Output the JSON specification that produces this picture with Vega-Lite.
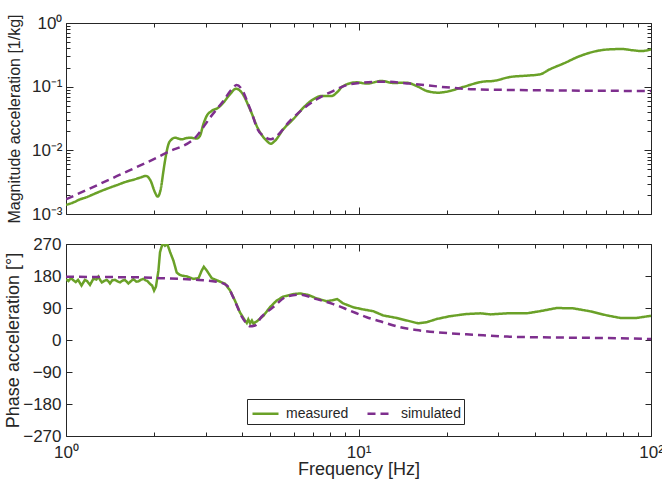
{
  "$schema": "https://vega.github.io/schema/vega-lite/v6.json",
  "background": "white",
  "padding": {"left": 3, "top": 13, "right": 0, "bottom": 0},
  "bounds": "flush",
  "spacing": 30,
  "config": {
    "view": {"stroke": "#262626", "strokeWidth": 1},
    "axis": {"domain": false, "grid": false, "labelFont": "Liberation Sans", "titleFont": "Liberation Sans", "labelFontSize": 17, "titleFontSize": 18, "labelColor": "#262626", "titleColor": "#262626", "tickColor": "#262626", "titleFontWeight": "normal", "labelOverlap": false, "labelFlush": false}
  },
  "datasets": {
    "mag": [
      {"f": 1.0, "m": 0.00139, "series": "measured"},
      {"f": 1.06, "m": 0.00152, "series": "measured"},
      {"f": 1.117, "m": 0.0017, "series": "measured"},
      {"f": 1.17, "m": 0.00182, "series": "measured"},
      {"f": 1.24, "m": 0.00204, "series": "measured"},
      {"f": 1.32, "m": 0.0023, "series": "measured"},
      {"f": 1.414, "m": 0.0026, "series": "measured"},
      {"f": 1.51, "m": 0.0029, "series": "measured"},
      {"f": 1.61, "m": 0.00323, "series": "measured"},
      {"f": 1.7, "m": 0.00345, "series": "measured"},
      {"f": 1.79, "m": 0.00372, "series": "measured"},
      {"f": 1.877, "m": 0.00396, "series": "measured"},
      {"f": 1.948, "m": 0.0033, "series": "measured"},
      {"f": 2.015, "m": 0.00218, "series": "measured"},
      {"f": 2.058, "m": 0.00188, "series": "measured"},
      {"f": 2.113, "m": 0.0026, "series": "measured"},
      {"f": 2.15, "m": 0.0045, "series": "measured"},
      {"f": 2.18, "m": 0.00682, "series": "measured"},
      {"f": 2.24, "m": 0.01245, "series": "measured"},
      {"f": 2.298, "m": 0.0149, "series": "measured"},
      {"f": 2.358, "m": 0.0158, "series": "measured"},
      {"f": 2.42, "m": 0.0153, "series": "measured"},
      {"f": 2.486, "m": 0.0149, "series": "measured"},
      {"f": 2.57, "m": 0.0155, "series": "measured"},
      {"f": 2.655, "m": 0.0158, "series": "measured"},
      {"f": 2.797, "m": 0.0153, "series": "measured"},
      {"f": 2.87, "m": 0.0168, "series": "measured"},
      {"f": 2.948, "m": 0.0257, "series": "measured"},
      {"f": 3.027, "m": 0.0347, "series": "measured"},
      {"f": 3.148, "m": 0.0416, "series": "measured"},
      {"f": 3.317, "m": 0.0468, "series": "measured"},
      {"f": 3.45, "m": 0.056, "series": "measured"},
      {"f": 3.637, "m": 0.0759, "series": "measured"},
      {"f": 3.813, "m": 0.093, "series": "measured"},
      {"f": 3.99, "m": 0.0805, "series": "measured"},
      {"f": 4.256, "m": 0.0442, "series": "measured"},
      {"f": 4.545, "m": 0.0214, "series": "measured"},
      {"f": 4.855, "m": 0.0141, "series": "measured"},
      {"f": 5.01, "m": 0.0127, "series": "measured"},
      {"f": 5.18, "m": 0.0141, "series": "measured"},
      {"f": 5.53, "m": 0.0214, "series": "measured"},
      {"f": 5.98, "m": 0.0308, "series": "measured"},
      {"f": 6.48, "m": 0.0468, "series": "measured"},
      {"f": 7.01, "m": 0.0634, "series": "measured"},
      {"f": 7.48, "m": 0.0714, "series": "measured"},
      {"f": 8.1, "m": 0.0714, "series": "measured"},
      {"f": 8.42, "m": 0.0805, "series": "measured"},
      {"f": 8.87, "m": 0.1025, "series": "measured"},
      {"f": 9.86, "m": 0.117, "series": "measured"},
      {"f": 10.67, "m": 0.1117, "series": "measured"},
      {"f": 12.0, "m": 0.123, "series": "measured"},
      {"f": 13.15, "m": 0.1143, "series": "measured"},
      {"f": 14.6, "m": 0.1156, "series": "measured"},
      {"f": 15.8, "m": 0.1025, "series": "measured"},
      {"f": 17.1, "m": 0.0857, "series": "measured"},
      {"f": 18.75, "m": 0.0805, "series": "measured"},
      {"f": 20.55, "m": 0.0857, "series": "measured"},
      {"f": 22.8, "m": 0.0989, "series": "measured"},
      {"f": 26.7, "m": 0.12, "series": "measured"},
      {"f": 28.9, "m": 0.123, "series": "measured"},
      {"f": 33.0, "m": 0.142, "series": "measured"},
      {"f": 37.6, "m": 0.149, "series": "measured"},
      {"f": 41.7, "m": 0.156, "series": "measured"},
      {"f": 45.1, "m": 0.1875, "series": "measured"},
      {"f": 50.1, "m": 0.23, "series": "measured"},
      {"f": 57.2, "m": 0.303, "series": "measured"},
      {"f": 65.2, "m": 0.363, "series": "measured"},
      {"f": 72.4, "m": 0.386, "series": "measured"},
      {"f": 79.4, "m": 0.39, "series": "measured"},
      {"f": 87.0, "m": 0.372, "series": "measured"},
      {"f": 93.0, "m": 0.363, "series": "measured"},
      {"f": 100.0, "m": 0.386, "series": "measured"},
      {"f": 1.0, "m": 0.0017, "series": "simulated"},
      {"f": 1.49, "m": 0.00392, "series": "simulated"},
      {"f": 2.21, "m": 0.0092, "series": "simulated"},
      {"f": 2.8, "m": 0.0168, "series": "simulated"},
      {"f": 3.107, "m": 0.0326, "series": "simulated"},
      {"f": 3.45, "m": 0.0596, "series": "simulated"},
      {"f": 3.686, "m": 0.091, "series": "simulated"},
      {"f": 3.83, "m": 0.106, "series": "simulated"},
      {"f": 3.99, "m": 0.091, "series": "simulated"},
      {"f": 4.2, "m": 0.0529, "series": "simulated"},
      {"f": 4.37, "m": 0.0326, "series": "simulated"},
      {"f": 4.49, "m": 0.0227, "series": "simulated"},
      {"f": 4.79, "m": 0.0162, "series": "simulated"},
      {"f": 5.01, "m": 0.0149, "series": "simulated"},
      {"f": 5.25, "m": 0.0168, "series": "simulated"},
      {"f": 5.83, "m": 0.029, "series": "simulated"},
      {"f": 6.48, "m": 0.0452, "series": "simulated"},
      {"f": 7.2, "m": 0.0634, "series": "simulated"},
      {"f": 8.2, "m": 0.0857, "series": "simulated"},
      {"f": 9.35, "m": 0.109, "series": "simulated"},
      {"f": 12.2, "m": 0.12, "series": "simulated"},
      {"f": 15.0, "m": 0.1117, "series": "simulated"},
      {"f": 20.55, "m": 0.0966, "series": "simulated"},
      {"f": 24.7, "m": 0.091, "series": "simulated"},
      {"f": 41.7, "m": 0.0878, "series": "simulated"},
      {"f": 60.0, "m": 0.0865, "series": "simulated"},
      {"f": 100.0, "m": 0.0855, "series": "simulated"}
    ],
    "phase": [
      {"f": 1.0, "p": 171, "series": "measured"},
      {"f": 1.02, "p": 166, "series": "measured"},
      {"f": 1.04, "p": 174, "series": "measured"},
      {"f": 1.06, "p": 168, "series": "measured"},
      {"f": 1.08, "p": 163, "series": "measured"},
      {"f": 1.1, "p": 169, "series": "measured"},
      {"f": 1.13, "p": 153, "series": "measured"},
      {"f": 1.16, "p": 169, "series": "measured"},
      {"f": 1.18, "p": 166, "series": "measured"},
      {"f": 1.208, "p": 155, "series": "measured"},
      {"f": 1.24, "p": 172, "series": "measured"},
      {"f": 1.27, "p": 170, "series": "measured"},
      {"f": 1.29, "p": 178, "series": "measured"},
      {"f": 1.31, "p": 168, "series": "measured"},
      {"f": 1.325, "p": 162, "series": "measured"},
      {"f": 1.35, "p": 166, "series": "measured"},
      {"f": 1.378, "p": 169, "series": "measured"},
      {"f": 1.4, "p": 164, "series": "measured"},
      {"f": 1.414, "p": 159, "series": "measured"},
      {"f": 1.44, "p": 168, "series": "measured"},
      {"f": 1.47, "p": 169, "series": "measured"},
      {"f": 1.5, "p": 165, "series": "measured"},
      {"f": 1.53, "p": 162, "series": "measured"},
      {"f": 1.56, "p": 167, "series": "measured"},
      {"f": 1.59, "p": 169, "series": "measured"},
      {"f": 1.634, "p": 159, "series": "measured"},
      {"f": 1.67, "p": 166, "series": "measured"},
      {"f": 1.7, "p": 171, "series": "measured"},
      {"f": 1.74, "p": 164, "series": "measured"},
      {"f": 1.77, "p": 165, "series": "measured"},
      {"f": 1.8, "p": 169, "series": "measured"},
      {"f": 1.838, "p": 172, "series": "measured"},
      {"f": 1.87, "p": 168, "series": "measured"},
      {"f": 1.897, "p": 166, "series": "measured"},
      {"f": 1.937, "p": 158, "series": "measured"},
      {"f": 1.97, "p": 153, "series": "measured"},
      {"f": 2.0, "p": 139, "series": "measured"},
      {"f": 2.03, "p": 150, "series": "measured"},
      {"f": 2.07, "p": 195, "series": "measured"},
      {"f": 2.096, "p": 247, "series": "measured"},
      {"f": 2.14, "p": 272, "series": "measured"},
      {"f": 2.18, "p": 265, "series": "measured"},
      {"f": 2.22, "p": 270, "series": "measured"},
      {"f": 2.27, "p": 247, "series": "measured"},
      {"f": 2.33, "p": 223, "series": "measured"},
      {"f": 2.39, "p": 190, "series": "measured"},
      {"f": 2.44, "p": 184, "series": "measured"},
      {"f": 2.49, "p": 181, "series": "measured"},
      {"f": 2.59, "p": 179, "series": "measured"},
      {"f": 2.72, "p": 172, "series": "measured"},
      {"f": 2.84, "p": 174, "series": "measured"},
      {"f": 2.91, "p": 195, "series": "measured"},
      {"f": 2.96, "p": 206, "series": "measured"},
      {"f": 3.03, "p": 195, "series": "measured"},
      {"f": 3.15, "p": 174, "series": "measured"},
      {"f": 3.32, "p": 166, "series": "measured"},
      {"f": 3.5, "p": 158, "series": "measured"},
      {"f": 3.64, "p": 139, "series": "measured"},
      {"f": 3.78, "p": 111, "series": "measured"},
      {"f": 3.93, "p": 78, "series": "measured"},
      {"f": 4.09, "p": 55, "series": "measured"},
      {"f": 4.15, "p": 48, "series": "measured"},
      {"f": 4.2, "p": 58, "series": "measured"},
      {"f": 4.26, "p": 47, "series": "measured"},
      {"f": 4.32, "p": 55, "series": "measured"},
      {"f": 4.38, "p": 45, "series": "measured"},
      {"f": 4.43, "p": 50, "series": "measured"},
      {"f": 4.49, "p": 52, "series": "measured"},
      {"f": 4.6, "p": 60, "series": "measured"},
      {"f": 4.73, "p": 68, "series": "measured"},
      {"f": 4.98, "p": 92, "series": "measured"},
      {"f": 5.25, "p": 111, "series": "measured"},
      {"f": 5.53, "p": 122, "series": "measured"},
      {"f": 5.98, "p": 129, "series": "measured"},
      {"f": 6.3, "p": 131, "series": "measured"},
      {"f": 6.72, "p": 127, "series": "measured"},
      {"f": 7.19, "p": 117, "series": "measured"},
      {"f": 7.79, "p": 109, "series": "measured"},
      {"f": 8.16, "p": 112, "series": "measured"},
      {"f": 8.46, "p": 115, "series": "measured"},
      {"f": 8.86, "p": 103, "series": "measured"},
      {"f": 9.6, "p": 92, "series": "measured"},
      {"f": 10.38, "p": 86, "series": "measured"},
      {"f": 11.23, "p": 81, "series": "measured"},
      {"f": 12.15, "p": 69, "series": "measured"},
      {"f": 13.5, "p": 62, "series": "measured"},
      {"f": 14.6, "p": 55, "series": "measured"},
      {"f": 15.97, "p": 47, "series": "measured"},
      {"f": 17.1, "p": 50, "series": "measured"},
      {"f": 18.5, "p": 59, "series": "measured"},
      {"f": 20.55, "p": 67, "series": "measured"},
      {"f": 23.4, "p": 73, "series": "measured"},
      {"f": 26.1, "p": 75, "series": "measured"},
      {"f": 28.3, "p": 72, "series": "measured"},
      {"f": 32.2, "p": 75, "series": "measured"},
      {"f": 37.6, "p": 75, "series": "measured"},
      {"f": 41.7, "p": 81, "series": "measured"},
      {"f": 47.6, "p": 90, "series": "measured"},
      {"f": 54.2, "p": 89, "series": "measured"},
      {"f": 61.7, "p": 81, "series": "measured"},
      {"f": 70.8, "p": 69, "series": "measured"},
      {"f": 78.6, "p": 62, "series": "measured"},
      {"f": 89.2, "p": 62, "series": "measured"},
      {"f": 100.0, "p": 68, "series": "measured"},
      {"f": 1.0, "p": 178, "series": "simulated"},
      {"f": 1.4, "p": 177, "series": "simulated"},
      {"f": 1.84, "p": 176, "series": "simulated"},
      {"f": 2.1, "p": 174, "series": "simulated"},
      {"f": 2.72, "p": 170, "series": "simulated"},
      {"f": 3.27, "p": 164, "series": "simulated"},
      {"f": 3.55, "p": 153, "series": "simulated"},
      {"f": 3.73, "p": 120, "series": "simulated"},
      {"f": 3.87, "p": 90, "series": "simulated"},
      {"f": 4.0, "p": 64, "series": "simulated"},
      {"f": 4.13, "p": 48, "series": "simulated"},
      {"f": 4.26, "p": 38.5, "series": "simulated"},
      {"f": 4.4, "p": 40, "series": "simulated"},
      {"f": 4.5, "p": 45, "series": "simulated"},
      {"f": 4.6, "p": 59, "series": "simulated"},
      {"f": 4.85, "p": 78, "series": "simulated"},
      {"f": 5.1, "p": 92, "series": "simulated"},
      {"f": 5.68, "p": 122, "series": "simulated"},
      {"f": 6.3, "p": 127.6, "series": "simulated"},
      {"f": 7.19, "p": 115, "series": "simulated"},
      {"f": 8.2, "p": 101, "series": "simulated"},
      {"f": 9.35, "p": 82.7, "series": "simulated"},
      {"f": 10.67, "p": 64, "series": "simulated"},
      {"f": 12.15, "p": 50, "series": "simulated"},
      {"f": 13.9, "p": 35.7, "series": "simulated"},
      {"f": 15.8, "p": 28, "series": "simulated"},
      {"f": 20.55, "p": 19, "series": "simulated"},
      {"f": 24.7, "p": 15, "series": "simulated"},
      {"f": 32.2, "p": 9.5, "series": "simulated"},
      {"f": 41.7, "p": 7.6, "series": "simulated"},
      {"f": 61.7, "p": 6, "series": "simulated"},
      {"f": 96.0, "p": 3, "series": "simulated"},
      {"f": 100.0, "p": 2.5, "series": "simulated"}
    ]
  },
  "vconcat": [
    {
      "width": 585,
      "height": 191,
      "data": {"name": "mag"},
      "layer": [
        {
          "transform": [{"filter": "datum.series == 'measured'"}],
          "mark": {"type": "line", "strokeWidth": 2.5, "interpolate": "monotone", "clip": true},
          "encoding": {
            "x": {"field": "f", "type": "quantitative", "scale": {"type": "log", "domain": [1, 100], "nice": false},
              "axis": {"orient": "bottom", "title": null, "labels": false, "values": [1,2,3,4,5,6,7,8,9,10,20,30,40,50,60,70,80,90,100],
                "tickSize": {"condition": {"test": "abs(log(datum.value)/LN10 - round(log(datum.value)/LN10)) < 0.001", "value": -7}, "value": -4}}},
            "y": {"field": "m", "type": "quantitative", "scale": {"type": "log", "domain": [0.001, 1], "nice": false},
              "axis": {"orient": "left", "title": "Magnitude acceleration [1/kg]", "titleFontSize": 16, "titleX": -44, "labelPadding": 11,
                "values": [0.001,0.002,0.003,0.004,0.005,0.006,0.007,0.008,0.009,0.01,0.02,0.03,0.04,0.05,0.06,0.07,0.08,0.09,0.1,0.2,0.3,0.4,0.5,0.6,0.7,0.8,0.9,1],
                "labelExpr": "datum.value == 1 ? '10⁰' : datum.value == 0.1 ? '10⁻¹' : datum.value == 0.01 ? '10⁻²' : datum.value == 0.001 ? '10⁻³' : ''",
                "tickSize": {"condition": {"test": "abs(log(datum.value)/LN10 - round(log(datum.value)/LN10)) < 0.001", "value": -7}, "value": -4}}},
            "color": {"field": "series", "type": "nominal", "scale": {"domain": ["measured", "simulated"], "range": ["#6aa128", "#7e2f8e"]}, "legend": null},
            "strokeDash": {"field": "series", "type": "nominal", "scale": {"domain": ["measured", "simulated"], "range": [[1, 0], [8, 5]]}, "legend": null}
          }
        },
        {
          "transform": [{"filter": "datum.series == 'simulated'"}],
          "mark": {"type": "line", "strokeWidth": 2.5, "interpolate": "monotone", "clip": true},
          "encoding": {
            "x": {"field": "f", "type": "quantitative", "axis": null},
            "y": {"field": "m", "type": "quantitative", "axis": null},
            "color": {"field": "series", "type": "nominal", "legend": null},
            "strokeDash": {"field": "series", "type": "nominal", "legend": null}
          }
        },
        {
          "mark": {"type": "line", "opacity": 0},
          "encoding": {
            "x": {"field": "f", "type": "quantitative",
              "axis": {"orient": "top", "title": null, "labels": false, "values": [1,2,3,4,5,6,7,8,9,10,20,30,40,50,60,70,80,90,100],
                "tickSize": {"condition": {"test": "abs(log(datum.value)/LN10 - round(log(datum.value)/LN10)) < 0.001", "value": -7}, "value": -4}}},
            "y": {"field": "m", "type": "quantitative",
              "axis": {"orient": "right", "title": null, "labels": false,
                "values": [0.001,0.002,0.003,0.004,0.005,0.006,0.007,0.008,0.009,0.01,0.02,0.03,0.04,0.05,0.06,0.07,0.08,0.09,0.1,0.2,0.3,0.4,0.5,0.6,0.7,0.8,0.9,1],
                "tickSize": {"condition": {"test": "abs(log(datum.value)/LN10 - round(log(datum.value)/LN10)) < 0.001", "value": -7}, "value": -4}}},
            "detail": {"field": "series"}
          }
        }
      ],
      "resolve": {"axis": {"x": "independent", "y": "independent"}}
    },
    {
      "width": 585,
      "height": 192,
      "data": {"name": "phase"},
      "layer": [
        {
          "transform": [{"filter": "datum.series == 'measured'"}],
          "mark": {"type": "line", "strokeWidth": 2.5, "clip": true},
          "encoding": {
            "x": {"field": "f", "type": "quantitative", "scale": {"type": "log", "domain": [1, 100], "nice": false},
              "axis": {"orient": "bottom", "title": "Frequency [Hz]", "labelPadding": 15, "titlePadding": -3, "values": [1,2,3,4,5,6,7,8,9,10,20,30,40,50,60,70,80,90,100],
                "labelExpr": "datum.value == 1 ? '10⁰' : datum.value == 10 ? '10¹' : datum.value == 100 ? '10²' : ''",
                "tickSize": {"condition": {"test": "abs(log(datum.value)/LN10 - round(log(datum.value)/LN10)) < 0.001", "value": -7}, "value": -4}}},
            "y": {"field": "p", "type": "quantitative", "scale": {"domain": [-270, 270], "nice": false},
              "axis": {"orient": "left", "title": "Phase acceleration [°]", "titleX": -44, "labelPadding": 11, "values": [-270,-180,-90,0,90,180,270], "tickSize": -6}},
            "color": {"field": "series", "type": "nominal", "scale": {"domain": ["measured", "simulated"], "range": ["#6aa128", "#7e2f8e"]},
              "legend": {"orient": "none", "legendX": 181, "legendY": 155, "direction": "horizontal", "title": null, "strokeColor": "#262626", "fillColor": "white", "padding": 3, "symbolType": "M-1.3,0h2.6", "symbolSize": 400, "symbolStrokeWidth": 2.5, "symbolOffset": 4, "labelFontSize": 14, "labelFont": "Liberation Sans", "labelColor": "#262626", "columnPadding": 13, "labelOffset": 9}},
            "strokeDash": {"field": "series", "type": "nominal", "scale": {"domain": ["measured", "simulated"], "range": [[1, 0], [8, 5]]},
              "legend": {"orient": "none", "legendX": 181, "legendY": 155, "direction": "horizontal", "title": null, "strokeColor": "#262626", "fillColor": "white", "padding": 3, "symbolType": "M-1.3,0h2.6", "symbolSize": 400, "symbolStrokeWidth": 2.5, "symbolOffset": 4, "labelFontSize": 14, "labelFont": "Liberation Sans", "labelColor": "#262626", "columnPadding": 13, "labelOffset": 9}}
          }
        },
        {
          "transform": [{"filter": "datum.series == 'simulated'"}],
          "mark": {"type": "line", "strokeWidth": 2.5, "interpolate": "monotone", "clip": true},
          "encoding": {
            "x": {"field": "f", "type": "quantitative", "axis": null},
            "y": {"field": "p", "type": "quantitative", "axis": null},
            "color": {"field": "series", "type": "nominal"},
            "strokeDash": {"field": "series", "type": "nominal"}
          }
        },
        {
          "mark": {"type": "line", "opacity": 0},
          "encoding": {
            "x": {"field": "f", "type": "quantitative",
              "axis": {"orient": "top", "title": null, "labels": false, "values": [1,2,3,4,5,6,7,8,9,10,20,30,40,50,60,70,80,90,100],
                "tickSize": {"condition": {"test": "abs(log(datum.value)/LN10 - round(log(datum.value)/LN10)) < 0.001", "value": -7}, "value": -4}}},
            "y": {"field": "p", "type": "quantitative",
              "axis": {"orient": "right", "title": null, "labels": false, "values": [-270,-180,-90,0,90,180,270], "tickSize": -6}},
            "detail": {"field": "series"}
          }
        }
      ],
      "resolve": {"axis": {"x": "independent", "y": "independent"}}
    }
  ],
  "resolve": {"scale": {"color": "independent", "strokeDash": "independent"}, "legend": {"color": "independent", "strokeDash": "independent"}}
}
